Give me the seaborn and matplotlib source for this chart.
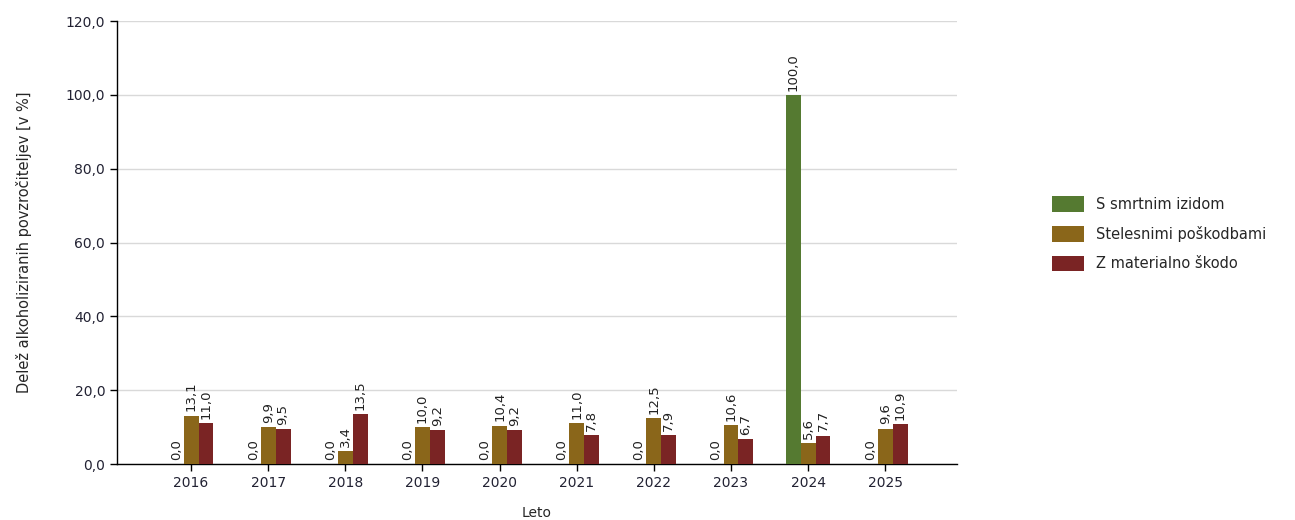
import pandas as pd
import matplotlib
matplotlib.use("Agg")
import matplotlib.pyplot as plt
import seaborn as sns

# data
years = ["2016", "2017", "2018", "2019", "2020", "2021", "2022", "2023", "2024", "2025"]
series_names = ["S smrtnim izidom", "Stelesnimi poškodbami", "Z materialno škodo"]
smrtni = [0.0, 0.0, 0.0, 0.0, 0.0, 0.0, 0.0, 0.0, 100.0, 0.0]
telesne = [13.1, 9.9, 3.4, 10.0, 10.4, 11.0, 12.5, 10.6, 5.6, 9.6]
materialna = [11.0, 9.5, 13.5, 9.2, 9.2, 7.8, 7.9, 6.7, 7.7, 10.9]
colors = ["#557A31", "#8A661A", "#7A2424"]

rows = []
for name, vals in zip(series_names, [smrtni, telesne, materialna]):
    for y, v in zip(years, vals):
        rows.append({"Leto": y, "Vrsta": name, "Delez": v})
df = pd.DataFrame(rows)

sns.set_style("white")
plt.rcParams["font.family"] = ["DejaVu Sans"]

fig = plt.figure(figsize=(12.95, 5.2), dpi=100)
ax = fig.add_axes([117 / 1295, 56 / 520, 840 / 1295, 443 / 520])

sns.barplot(data=df, x="Leto", y="Delez", hue="Vrsta", order=years,
            hue_order=series_names, palette=colors, width=0.58, gap=0,
            saturation=1, errorbar=None, linewidth=0, ax=ax, legend=True,
            zorder=3)

for cont in ax.containers:
    labels = [f"{b.get_height():.1f}".replace(".", ",") for b in cont]
    ax.bar_label(cont, labels=labels, rotation=90, padding=3,
                 fontsize=9.5, color="#222222")

ax.set_ylim(0, 120)
ax.set_yticks(range(0, 121, 20))
ax.set_yticklabels([f"{v},0" for v in range(0, 121, 20)])
ax.set_xlim(-0.96, 9.93)
ax.grid(axis="y", color="#d9d9d9", linewidth=1, zorder=0)
ax.set_axisbelow(True)
for s in ["top", "right"]:
    ax.spines[s].set_visible(False)
for s in ["left", "bottom"]:
    ax.spines[s].set_color("black")
    ax.spines[s].set_linewidth(1)
ax.tick_params(axis="both", direction="out", length=5, width=1, color="black",
               labelsize=10, labelcolor="#222233", left=True, bottom=True)
ax.set_xlabel("Leto", fontsize=10, labelpad=12)
ax.set_ylabel("Delež alkoholiziranih povzročiteljev [v %]", fontsize=10.5, labelpad=24)

ax.legend(loc="upper left", bbox_to_anchor=(1046 / 1295, 1 - 190 / 520),
          bbox_transform=fig.transFigure, frameon=False, fontsize=10.5,
          handlelength=2.2, handleheight=1.3, handletextpad=0.8, labelspacing=0.95,
          borderaxespad=0)

fig.savefig("out.png", dpi=100)
